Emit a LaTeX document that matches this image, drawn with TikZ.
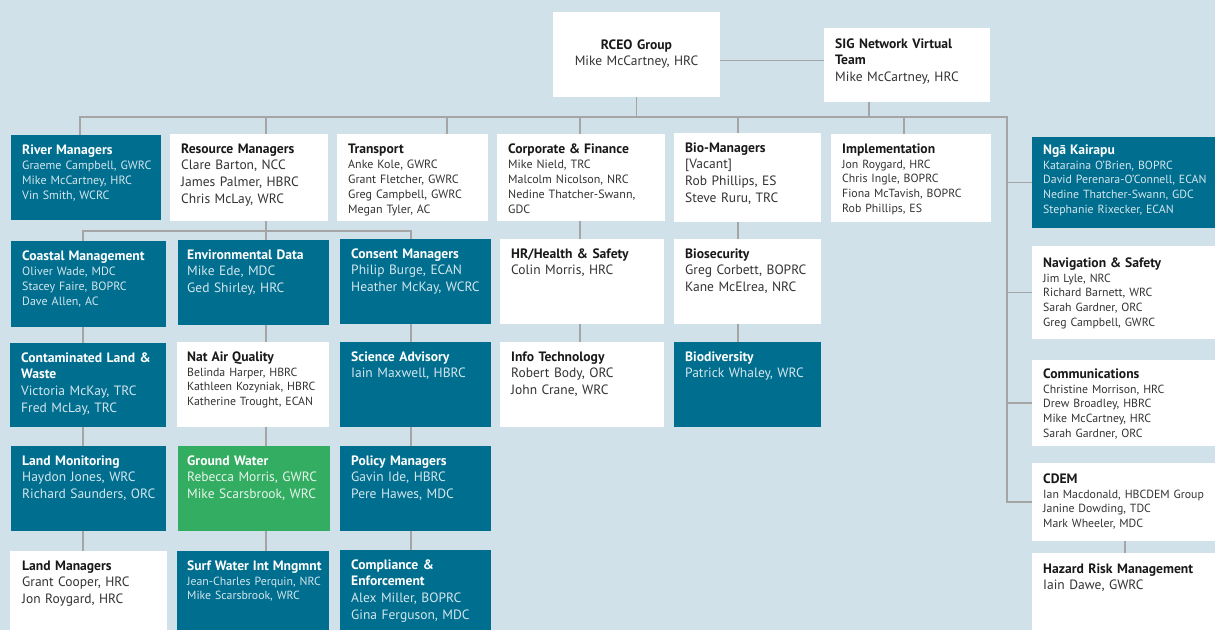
\documentclass[tikz,border=0pt]{standalone}
\usepackage{fontspec}
\setmainfont{PT Sans}

\definecolor{bgblue}{HTML}{D0E1EA}
\definecolor{tealbox}{HTML}{006E8E}
\definecolor{greenbox}{HTML}{33AD62}
\definecolor{linkgrey}{HTML}{A5A5A5}
\definecolor{paletext}{HTML}{D3E6EE}
\definecolor{darktext}{HTML}{333333}
\colorlet{headcol}{black}

\newcommand\cardbig{\fontsize{13.5}{16.7}\selectfont}
\newcommand\cardsmall{\fontsize{12}{15}\selectfont}
\newcommand\cardnarrow{\fontsize{11.8}{14.8}\selectfont}
\newcommand\cardhead[1]{{\color{headcol}\bfseries\fontsize{13.6}{15}\selectfont #1}}

\tikzset{
    card/.style={anchor=north west, inner sep=0pt, outer sep=0pt},
    boxsize/.style 2 args={minimum width=#1pt, minimum height=#2pt},
    teal card/.style={card, fill=tealbox},
    white card/.style={card, fill=white},
    green card/.style={card, fill=greenbox},
    card text/.style={anchor=north west, xshift=11pt, inner sep=0pt, text height=19pt,
        text width=220pt, align=left, font=\cardbig},
    on teal/.style={card text, text=paletext, execute at begin node=\colorlet{headcol}{white}},
    on green/.style={on teal, text=white!88!greenbox},
    on white/.style={card text, text=darktext, execute at begin node=\colorlet{headcol}{black!90}},
    link/.style={draw=linkgrey, line width=1.6pt}
}

\begin{document}
\begin{tikzpicture}[x=1pt, y=-1pt]

    \useasboundingbox (0,0) rectangle (1215,630);
    \fill[bgblue] (0,0) rectangle (1215,630);

    % top
    \node[white card, boxsize={167}{85}, label={[on white, anchor=north, xshift=-11pt, text width=150pt, align=center, text height=37pt]north:{\cardhead{RCEO Group}\\Mike McCartney, HRC}}] (rceo) at (553,12) {};
    \node[white card, boxsize={166}{74}, label={[on white, text height=20pt]north west:{\cardhead{SIG Network Virtual}\\\cardhead{Team}\\Mike McCartney, HRC}}] (sig) at (824,28) {};

    % first row
    \node[teal card, boxsize={150}{85}, label={[on teal, font=\cardsmall]north west:{\cardhead{River Managers}\\Graeme Campbell, GWRC\\Mike McCartney, HRC\\Vin Smith, WCRC}}] (river) at (11,135) {};
    \node[white card, boxsize={158}{87}, label={[on white]north west:{\cardhead{Resource Managers}\\Clare Barton, NCC\\James Palmer, HBRC\\Chris McLay, WRC}}] (resource) at (170,134) {};
    \node[white card, boxsize={151}{87}, label={[on white, font=\cardsmall]north west:{\cardhead{Transport}\\Anke Kole, GWRC\\Grant Fletcher, GWRC\\Greg Campbell, GWRC\\Megan Tyler, AC}}] (transport) at (337,134) {};
    \node[white card, boxsize={168}{87}, label={[on white, font=\cardsmall]north west:{\cardhead{Corporate \& Finance}\\Mike Nield, TRC\\Malcolm Nicolson, NRC\\Nedine Thatcher-Swann,\\GDC}}] (corporate) at (497,134) {};
    \node[white card, boxsize={147}{89}, label={[on white]north west:{\cardhead{Bio-Managers}\\{[Vacant]}\\Rob Phillips, ES\\Steve Ruru, TRC}}] (biomgr) at (674,133) {};
    \node[white card, boxsize={160}{88}, label={[on white, font=\cardnarrow]north west:{\cardhead{Implementation}\\Jon Roygard, HRC\\Chris Ingle, BOPRC\\Fiona McTavish, BOPRC\\Rob Phillips, ES}}] (implement) at (831,134) {};

    % right column
    \node[teal card, boxsize={183}{91}, label={[on teal, font=\cardnarrow, text height=17pt]north west:{\cardhead{Ngā Kairapu}\\Kataraina O'Brien, BOPRC\\David Perenara-O'Connell, ECAN\\Nedine Thatcher-Swann, GDC\\Stephanie Rixecker, ECAN}}] (nga) at (1032,137) {};
    \node[white card, boxsize={183}{93}, label={[on white, font=\cardnarrow, text height=21pt]north west:{\cardhead{Navigation \& Safety}\\Jim Lyle, NRC\\Richard Barnett, WRC\\Sarah Gardner, ORC\\Greg Campbell, GWRC}}] (nav) at (1032,246) {};
    \node[white card, boxsize={183}{86}, label={[on white, font=\cardnarrow, text height=18pt]north west:{\cardhead{Communications}\\Christine Morrison, HRC\\Drew Broadley, HBRC\\Mike McCartney, HRC\\Sarah Gardner, ORC}}] (comm) at (1032,360) {};
    \node[white card, boxsize={183}{78}, label={[on white, font=\cardnarrow, text height=20pt]north west:{\cardhead{CDEM}\\Ian Macdonald, HBCDEM Group\\Janine Dowding, TDC\\Mark Wheeler, MDC}}] (cdem) at (1032,463) {};
    \node[white card, boxsize={183}{77}, label={[on white, text height=20pt]north west:{\cardhead{Hazard Risk Management}\\Iain Dawe, GWRC}}] (hazard) at (1032,553) {};

    % second row
    \node[teal card, boxsize={155}{86}, label={[on teal, font=\cardsmall]north west:{\cardhead{Coastal Management}\\Oliver Wade, MDC\\Stacey Faire, BOPRC\\Dave Allen, AC}}] (coastal) at (11,241) {};
    \node[teal card, boxsize={151}{85}, label={[on teal, xshift=-2pt]north west:{\cardhead{Environmental Data}\\Mike Ede, MDC\\Ged Shirley, HRC}}] (envdata) at (178,240) {};
    \node[teal card, boxsize={151}{85}, label={[on teal]north west:{\cardhead{Consent Managers}\\Philip Burge, ECAN\\Heather McKay, WCRC}}] (consent) at (340,239) {};
    \node[white card, boxsize={164}{85}, label={[on white]north west:{\cardhead{HR/Health \& Safety}\\Colin Morris, HRC}}] (hr) at (500,239) {};
    \node[white card, boxsize={147}{85}, label={[on white]north west:{\cardhead{Biosecurity}\\Greg Corbett, BOPRC\\Kane McElrea, NRC}}] (biosec) at (674,239) {};

    % third row
    \node[teal card, boxsize={156}{84}, label={[on teal]north west:{\cardhead{Contaminated Land \&}\\\cardhead{Waste}\\Victoria McKay, TRC\\Fred McLay, TRC}}] (contam) at (10,343) {};
    \node[white card, boxsize={152}{85}, label={[on white, font=\cardnarrow, xshift=-1pt]north west:{\cardhead{Nat Air Quality}\\Belinda Harper, HBRC\\Kathleen Kozyniak, HBRC\\Katherine Trought, ECAN}}] (natair) at (177,342) {};
    \node[teal card, boxsize={151}{85}, label={[on teal]north west:{\cardhead{Science Advisory}\\Iain Maxwell, HBRC}}] (science) at (340,342) {};
    \node[white card, boxsize={164}{85}, label={[on white]north west:{\cardhead{Info Technology}\\Robert Body, ORC\\John Crane, WRC}}] (info) at (500,342) {};
    \node[teal card, boxsize={147}{85}, label={[on teal]north west:{\cardhead{Biodiversity}\\Patrick Whaley, WRC}}] (biodiv) at (674,342) {};

    % fourth row
    \node[teal card, boxsize={155}{85}, label={[on teal]north west:{\cardhead{Land Monitoring}\\Haydon Jones, WRC\\Richard Saunders, ORC}}] (landmon) at (11,446) {};
    \node[green card, boxsize={152}{85}, label={[on green, xshift=-2pt]north west:{\cardhead{Ground Water}\\Rebecca Morris, GWRC\\Mike Scarsbrook, WRC}}] (ground) at (178,446) {};
    \node[teal card, boxsize={151}{85}, label={[on teal]north west:{\cardhead{Policy Managers}\\Gavin Ide, HBRC\\Pere Hawes, MDC}}] (policy) at (340,446) {};

    % fifth row
    \node[white card, boxsize={157}{79}, label={[on white, xshift=1pt]north west:{\cardhead{Land Managers}\\Grant Cooper, HRC\\Jon Roygard, HRC}}] (landmgr) at (10,551) {};
    \node[teal card, boxsize={152}{79}, label={[on teal, font=\cardnarrow, xshift=-1pt]north west:{\cardhead{Surf Water Int Mngmnt}\\Jean-Charles Perquin, NRC\\Mike Scarsbrook, WRC}}] (surf) at (177,551) {};
    \node[teal card, boxsize={151}{80}, label={[on teal]north west:{\cardhead{Compliance \&}\\\cardhead{Enforcement}\\Alex Miller, BOPRC\\Gina Ferguson, MDC}}] (compliance) at (340,550) {};

    % connector positions
    \coordinate (bar-west) at (80,117);
    \coordinate (bar-east) at (1007,117);
    \coordinate (sub-bar) at (83,231);
    \coordinate (colA) at (83,0);
    \coordinate (colB) at (266,0);
    \coordinate (colC) at (411,0);
    \coordinate (colD) at (580,0);
    \coordinate (colE) at (738,0);
    \coordinate (colT) at (447,0);
    \coordinate (colI) at (904,0);
    \coordinate (colS) at (869,0);
    \coordinate (colH) at (1125,0);

    % top links
    \draw[link] ([yshift=-6pt]rceo.east) -- ([yshift=-6pt]rceo.east -| sig.west);
    \draw[link] (rceo.south) -- (rceo.south |- bar-west);
    \draw[link] (colS |- sig.south) -- (colS |- bar-west);
    \draw[link] (bar-west |- river.north) -- (bar-west) -- (bar-east) |- (cdem.west);
    \draw[link] (colB |- bar-west) -- (colB |- resource.north);
    \draw[link] (colT |- bar-west) -- (colT |- transport.north);
    \draw[link] (colD |- bar-west) -- (colD |- corporate.north);
    \draw[link] (colE |- bar-west) -- (colE |- biomgr.north);
    \draw[link] (colI |- bar-west) -- (colI |- implement.north);

    % right column links
    \draw[link] (bar-east |- nga.west) -- (nga.west);
    \draw[link] (bar-east |- nav.west) -- (nav.west);
    \draw[link] (bar-east |- comm.west) -- (comm.west);
    \draw[link] (colH |- cdem.south) -- (colH |- hazard.north);

    % resource managers group
    \draw[link] (colB |- resource.south) -- (colB |- envdata.north);
    \draw[link] (colA |- coastal.north) -- (sub-bar) -- (colC |- sub-bar) -- (colC |- consent.north);

    % column links
    \draw[link] (colA |- coastal.south) -- (colA |- contam.north);
    \draw[link] (colA |- contam.south) -- (colA |- landmon.north);
    \draw[link] (colA |- landmon.south) -- (colA |- landmgr.north);
    \draw[link] (colB |- envdata.south) -- (colB |- natair.north);
    \draw[link] (colB |- natair.south) -- (colB |- ground.north);
    \draw[link] (colB |- ground.south) -- (colB |- surf.north);
    \draw[link] (colC |- consent.south) -- (colC |- science.north);
    \draw[link] (colC |- science.south) -- (colC |- policy.north);
    \draw[link] (colC |- policy.south) -- (colC |- compliance.north);
    \draw[link] (colD |- corporate.south) -- (colD |- hr.north);
    \draw[link] (colD |- hr.south) -- (colD |- info.north);
    \draw[link] (colE |- biomgr.south) -- (colE |- biosec.north);
    \draw[link] (colE |- biosec.south) -- (colE |- biodiv.north);
\end{tikzpicture}
\end{document}
